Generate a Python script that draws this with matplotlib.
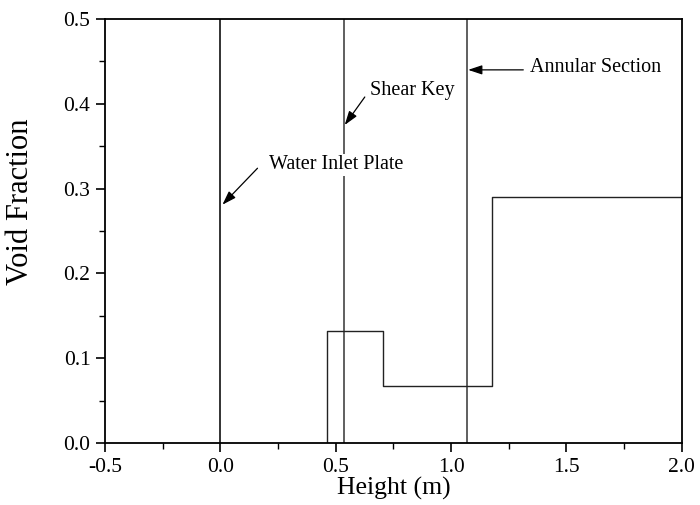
import matplotlib
matplotlib.use('Agg')
import matplotlib.pyplot as plt
from matplotlib.ticker import MultipleLocator

plt.rcParams.update({
    'font.family': 'Liberation Serif',
    'font.size': 15,
})

# step profile of void fraction
edges = [0.461, 0.703, 1.177, 2.0]
levels = [0.132, 0.067, 0.29]

# vertical markers (x position, label)
marker_x = [0.0, 0.536, 1.068]
marker_labels = ['Water Inlet Plate', 'Shear Key', 'Annular Section']
# arrow tip, arrow tail, text anchor for each label
arrow_tip = [(0.009, 0.281), (0.539, 0.375), (1.074, 0.440)]
arrow_tail = [(0.161, 0.324), (0.626, 0.408), (1.313, 0.440)]
text_pos = [(0.209, 0.328), (0.648, 0.416), (1.343, 0.443)]

fig = plt.figure(figsize=(7.0, 5.05), dpi=100)
ax = fig.add_axes([0.15, 0.1228, 0.824, 0.8396])

xs = [edges[0]] + edges[:-1] + [edges[-1]]
ys = [0.0] + levels + [levels[-1]]
ax.plot(xs, ys, drawstyle='steps-post', color='#222222', lw=1.0)

for x, c in zip(marker_x, ['#111111', '#444444', '#444444']):
    ax.axvline(x, color=c, lw=1.2, zorder=1)

for lab, tip, tail, tp in zip(marker_labels, arrow_tip, arrow_tail, text_pos):
    ax.annotate('', xy=tip, xytext=tail,
                arrowprops=dict(arrowstyle='-|>,head_length=0.6,head_width=0.2',
                                color='k', lw=0.9,
                                mutation_scale=14, shrinkA=0, shrinkB=0))
    ax.text(tp[0], tp[1], lab, ha='left', va='center', fontsize=14.5,
            bbox=dict(facecolor='white', edgecolor='none', pad=1.0), zorder=3)

ax.set_xlim(-0.5, 2.0)
ax.set_ylim(0.0, 0.5)
ax.xaxis.set_major_locator(MultipleLocator(0.5))
ax.xaxis.set_minor_locator(MultipleLocator(0.25))
ax.yaxis.set_major_locator(MultipleLocator(0.1))
ax.yaxis.set_minor_locator(MultipleLocator(0.05))
ax.xaxis.set_major_formatter(plt.FormatStrFormatter('%.1f'))
ax.yaxis.set_major_formatter(plt.FormatStrFormatter('%.1f'))
ax.tick_params(which='major', direction='out', length=6.5, width=1.2, labelsize=15.5, pad=4)
ax.tick_params(which='minor', direction='out', length=4.5, width=1.0)
for s in ax.spines.values():
    s.set_linewidth(1.3)

ax.set_xlabel('Height (m)', fontsize=18.5, labelpad=0)
ax.set_ylabel('Void Fraction', fontsize=22)
ax.yaxis.set_label_coords(-0.121, 0.57)

fig.savefig('out.png', dpi=100)
